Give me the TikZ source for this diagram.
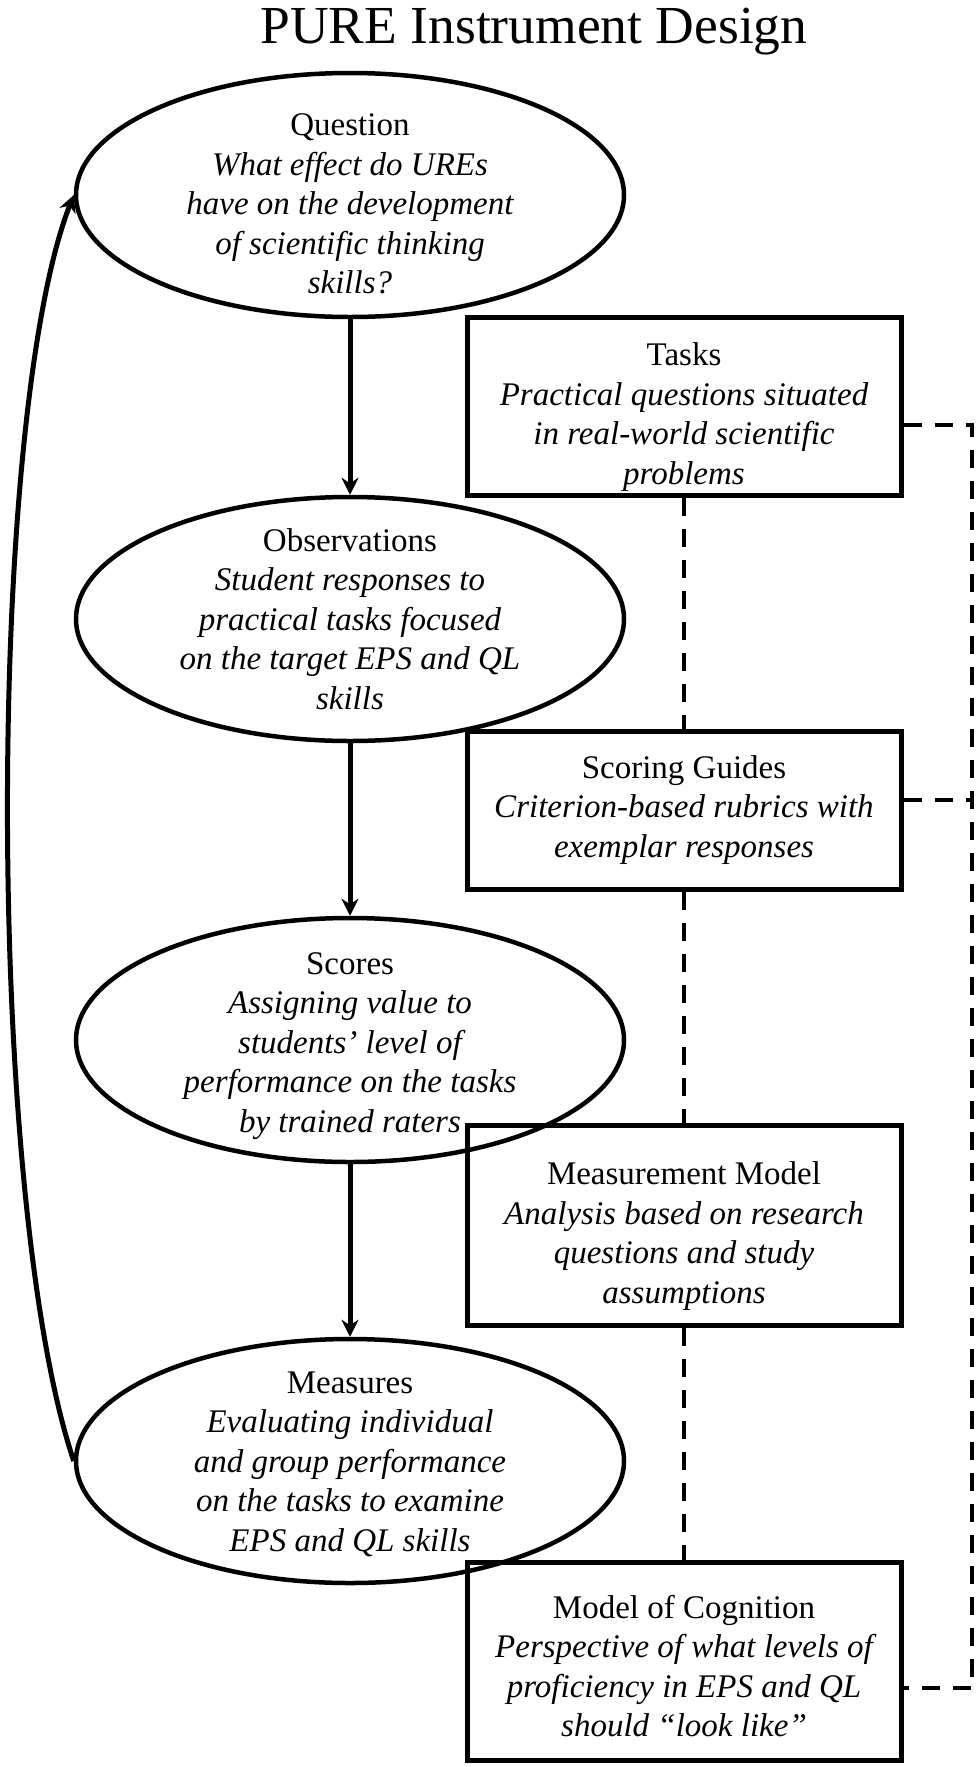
\documentclass[tikz,border=0pt]{standalone}
\usepackage{fontspec}
\setmainfont{Liberation Serif}
\usetikzlibrary{arrows.meta,shapes.geometric}
\begin{document}
\begin{tikzpicture}[x={(1pt,0)},y={(0,-1pt)},
 oval/.style={draw, line width=4.5pt, ellipse, minimum width=548pt, minimum height=244pt, inner sep=0pt},
 boxnode/.style={draw, line width=5pt, rectangle, minimum width=434pt, inner sep=0pt},
 label text/.style={align=center, inner sep=0pt, font=\fontsize{33}{39.5}\selectfont},
 flow/.style={line width=5pt, -{Stealth[length=17pt,width=17pt]}},
 link/.style={line width=4pt, dash pattern=on 18pt off 13pt}]
\useasboundingbox (0,0) rectangle (978,1767);
\node[font=\fontsize{53.5}{60}\selectfont, anchor=base] (title) at (534,43) {PURE Instrument Design};

\node[oval] (q) at (350,195) {};
\node[oval] (o) at (350,619) {};
\node[oval] (sc) at (350,1040) {};
\node[oval] (me) at (350,1461) {};
\node[label text] (qt) at ([yshift=-9pt]q.center) {Question\\ \itshape What effect do UREs\\ \itshape have on the development\\ \itshape of scientific thinking\\ \itshape skills?};
\node[label text] (ot) at (o.center) {Observations\\ \itshape Student responses to\\ \itshape practical tasks focused\\ \itshape on the target EPS and QL\\ \itshape skills};
\node[label text] (sct) at ([yshift=-6pt]sc.center) {Scores\\ \itshape Assigning value to\\ \itshape students’ level of\\ \itshape performance on the tasks\\ \itshape by trained raters};
\node[label text] (met) at ([yshift=-3pt]me.center) {Measures\\ \itshape Evaluating individual\\ \itshape and group performance\\ \itshape on the tasks to examine\\ \itshape EPS and QL skills};

\node[boxnode, minimum height=178pt] (t) at (684,406) {};
\node[boxnode, minimum height=158pt] (g) at (684,810) {};
\node[boxnode, minimum height=200pt] (mm) at (684,1225) {};
\node[boxnode, minimum height=198pt] (mc) at (684,1661) {};
\node[label text] (tt) at ([yshift=-11pt]t.center) {Tasks\\ \itshape Practical questions situated\\ \itshape in real-world scientific\\ \itshape problems};
\node[label text] (gt) at (g.center) {Scoring Guides\\ \itshape Criterion-based rubrics with\\ \itshape exemplar responses};
\node[label text] (mmt) at ([yshift=-11pt]mm.center) {Measurement Model\\ \itshape Analysis based on research\\ \itshape questions and study\\ \itshape assumptions};
\node[label text] (mct) at ([yshift=-5pt]mc.center) {Model of Cognition\\ \itshape Perspective of what levels of\\ \itshape proficiency in EPS and QL\\ \itshape should “look like”};

\draw[flow] (q) -- (o);
\draw[flow] (o) -- (sc);
\draw[flow] (sc) -- (me);
\draw[flow] (me.west) .. controls (-14,1200) and (-14,420) .. (q.west);

\draw[link] (t) -- (g);
\draw[link] (g) -- (mm);
\draw[link] (mm) -- (mc);

\coordinate (r1) at (972,425);
\coordinate (r2) at (972,800);
\coordinate (r3) at (972,1688);
\draw[link] (t.east |- r1) -- (r1) -- (r3) -- (mc.east |- r3);
\draw[link] (g.east |- r2) -- (r2);
\end{tikzpicture}
\end{document}
